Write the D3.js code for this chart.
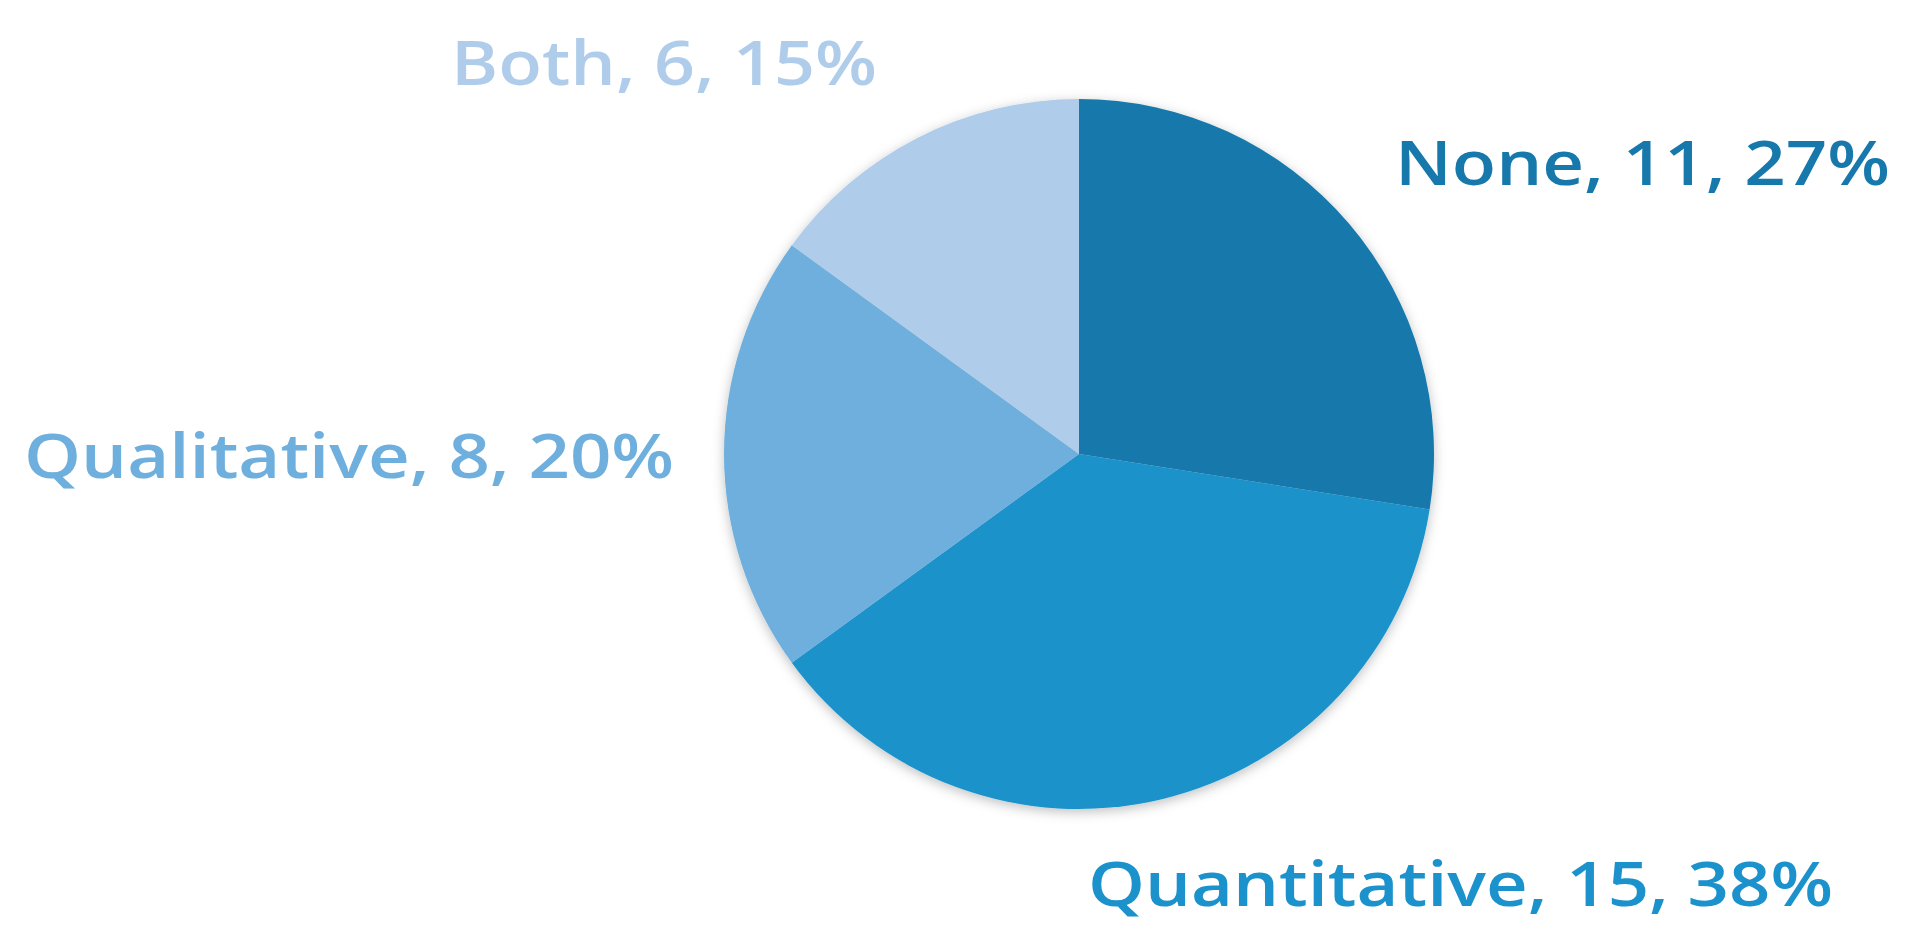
<!DOCTYPE html>
<html>
<head>
<meta charset="UTF-8">
<script src="https://d3js.org/d3.v7.min.js"></script>
<style>
  body { margin: 0; background: #fff; }
  text { font-family: "Open Sans", sans-serif; font-weight: 600; }
</style>
</head>
<body>
<svg id="chart" width="1910" height="950"></svg>
<script>
    // data
    const categories = ["None", "Quantitative", "Qualitative", "Both"];
    const counts = [11, 15, 8, 6];
    const percentLabels = ["27%", "38%", "20%", "15%"];
    const colors = ["#1778ab", "#1b92cb", "#6eafde", "#afcdea"];

    // label placement (x, baseline, width) per slice
    const labelPos = [
        {x: 1395, y: 185, w: 495},
        {x: 1088, y: 906, w: 745},
        {x: 24, y: 478, w: 650},
        {x: 451, y: 85, w: 426}
    ];

    const svg = d3.select("#chart");
    const cx = 1079, cy = 454, r = 355;

    const defs = svg.append("defs");
    const f = defs.append("filter").attr("id", "shadow")
        .attr("x", "-10%").attr("y", "-10%").attr("width", "120%").attr("height", "120%");
    f.append("feDropShadow").attr("dx", 0).attr("dy", 3).attr("stdDeviation", 6)
        .attr("flood-color", "#000").attr("flood-opacity", 0.25);

    const pie = d3.pie().sort(null).value(d => d);
    const arc = d3.arc().innerRadius(0).outerRadius(r);

    const g = svg.append("g")
        .attr("transform", `translate(${cx},${cy})`)
        .attr("filter", "url(#shadow)");

    g.selectAll("path")
        .data(pie(counts))
        .join("path")
        .attr("d", arc)
        .attr("fill", (d, i) => colors[i]);

    svg.selectAll("text.label")
        .data(categories)
        .join("text")
        .attr("class", "label")
        .attr("x", (d, i) => labelPos[i].x)
        .attr("y", (d, i) => labelPos[i].y)
        .attr("textLength", (d, i) => labelPos[i].w)
        .attr("lengthAdjust", "spacingAndGlyphs")
        .attr("font-size", 62)
        .attr("fill", (d, i) => colors[i])
        .text((d, i) => `${d}, ${counts[i]}, ${percentLabels[i]}`);
</script>
</body>
</html>
